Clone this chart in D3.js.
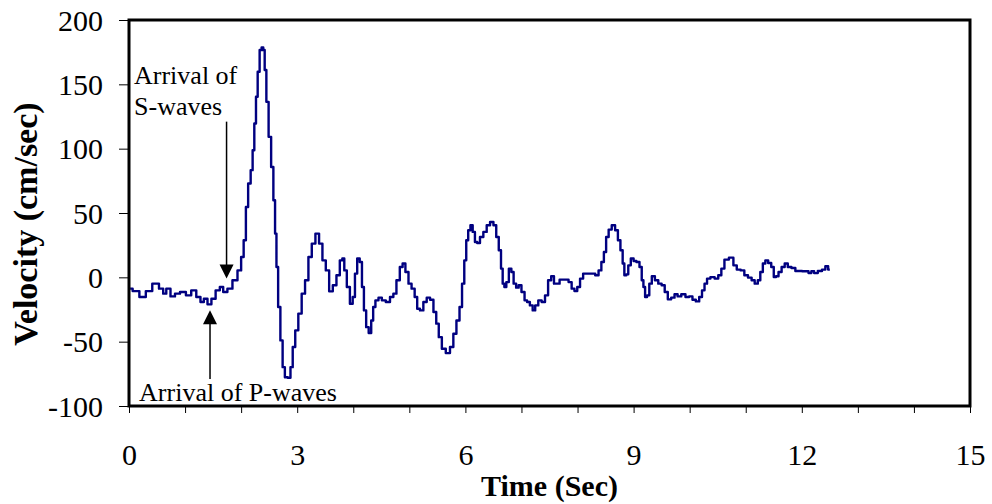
<!DOCTYPE html>
<html lang="en">
<head>
<meta charset="utf-8">
<title>Velocity Time History</title>
<script src="https://cdn.jsdelivr.net/npm/d3@7"></script>
<style>
  body { margin: 0; background: #fff; }
  text { font-family: "Liberation Serif", "Times New Roman", serif; fill: #000; }
  .axis path { display: none; }
  .axis line { stroke: #000; stroke-width: 1px; }
  .axis text { font-family: "Liberation Serif", "Times New Roman", serif; font-size: 30px; }
  .title { font-size: 30px; font-weight: bold; }
  .title.vert { font-size: 34px; }
  .note { font-size: 26px; }
  .frame { fill: none; stroke: #000; stroke-width: 3px; }
  .trace { fill: none; stroke: #000080; stroke-width: 2.4px; stroke-linejoin: round; }
</style>
</head>
<body>
<script>
// time (sec) and velocity (cm/sec)
var time = [0.02, 0.11, 0.26, 0.34, 0.49, 0.58, 0.64, 0.69, 0.79, 0.85, 0.97, 1.06, 1.16, 1.24, 1.31, 1.36,
  1.44, 1.50, 1.59, 1.65, 1.71, 1.80, 1.89, 1.98, 2.02, 2.07, 2.10, 2.15, 2.19, 2.22, 2.25, 2.28, 2.31,
  2.35, 2.38, 2.41, 2.43, 2.47, 2.51, 2.56, 2.59, 2.62, 2.64, 2.68, 2.72, 2.76, 2.80, 2.86, 2.90, 2.94,
  2.99, 3.05, 3.11, 3.17, 3.23, 3.29, 3.36, 3.42, 3.48, 3.54, 3.60, 3.67, 3.73, 3.79, 3.82, 3.86, 3.91,
  3.97, 4.01, 4.05, 4.09, 4.14, 4.17, 4.21, 4.25, 4.30, 4.34, 4.37, 4.42, 4.48, 4.54, 4.62, 4.69, 4.74,
  4.80, 4.86, 4.90, 4.96, 5.01, 5.07, 5.12, 5.16, 5.22, 5.28, 5.34, 5.40, 5.46, 5.50, 5.55, 5.61, 5.69,
  5.76, 5.81, 5.87, 5.92, 5.96, 6.00, 6.03, 6.07, 6.11, 6.15, 6.19, 6.23, 6.29, 6.35, 6.41, 6.47, 6.53,
  6.57, 6.62, 6.65, 6.68, 6.71, 6.75, 6.80, 6.84, 6.88, 6.93, 6.97, 7.03, 7.08, 7.12, 7.18, 7.22, 7.27,
  7.33, 7.39, 7.45, 7.50, 7.56, 7.60, 7.66, 7.70, 7.81, 7.87, 7.92, 7.97, 8.02, 8.07, 8.13, 8.28, 8.35,
  8.40, 8.45, 8.49, 8.53, 8.58, 8.64, 8.70, 8.74, 8.79, 8.82, 8.85, 8.89, 8.92, 8.98, 9.02, 9.08, 9.13,
  9.16, 9.19, 9.22, 9.26, 9.30, 9.35, 9.41, 9.47, 9.53, 9.58, 9.64, 9.70, 9.76, 9.81, 9.89, 9.96, 10.02,
  10.08, 10.14, 10.20, 10.24, 10.29, 10.33, 10.41, 10.48, 10.54, 10.59, 10.65, 10.75, 10.81, 10.87, 10.95,
  11.00, 11.08, 11.13, 11.19, 11.24, 11.28, 11.33, 11.37, 11.43, 11.48, 11.52, 11.56, 11.61, 11.67, 11.72,
  11.78, 11.85, 11.92, 12.09, 12.15, 12.19, 12.25, 12.32, 12.40, 12.44, 12.50];

var velocity = [-8.8, -10.7, -15.3, -10.7, -4.9, -8.8, -12.7, -8.8, -14.8, -12.7, -11.4, -14.0, -10.1, -15.3,
  -19.2, -16.6, -21.0, -16.6, -10.1, -7.5, -11.4, -8.8, -2.3, 5.4, 15.8, 28.8, 54.7, 72.9, 83.3, 98.8,
  119.6, 140.3, 159.8, 176.7, 178.7, 176.7, 161.1, 136.4, 109.2, 85.8, 59.9, 34.0, 8.0, -23.1, -49.0,
  -69.8, -77.6, -78.1, -69.8, -54.2, -41.2, -28.2, -12.7, -2.3, 15.8, 26.2, 34.0, 26.2, 13.2, 5.4, -10.9,
  -6.2, 1.6, 13.2, 14.6, 5.4, -7.5, -20.5, -15.3, 2.9, 14.6, 11.9, -7.5, -25.7, -38.7, -43.3, -33.5,
  -23.1, -17.9, -15.8, -17.9, -19.2, -15.3, -12.7, -2.3, 8.0, 10.7, 4.1, -4.9, -8.8, -15.3, -24.4, -25.7,
  -19.2, -15.8, -17.4, -27.0, -36.0, -46.5, -55.5, -58.9, -54.2, -43.8, -33.5, -23.1, -4.9, 13.2, 28.8,
  36.6, 40.5, 35.3, 27.5, 26.7, 31.4, 35.3, 40.5, 43.0, 40.5, 31.4, 21.0, 6.8, -4.9, -7.5, -3.7, 6.8, 4.1,
  -4.9, -8.0, -6.2, -11.4, -17.9, -19.2, -21.8, -25.7, -21.8, -17.9, -19.2, -14.0, -2.3, 0.8, -4.9, -4.9,
  -1.8, -1.8, -3.7, -8.8, -10.7, -7.5, -1.0, 2.9, 2.9, 1.6, 5.4, 11.9, 19.7, 31.4, 37.1, 40.5, 36.6, 28.8,
  21.0, 10.7, 1.6, 2.3, 9.3, 14.6, 12.7, 11.9, 8.0, -2.3, -7.5, -15.3, -14.0, -4.9, 0.8, -2.3, -4.9, -6.2,
  -11.4, -17.1, -15.8, -13.2, -14.8, -13.2, -15.3, -14.8, -17.4, -18.7, -15.3, -10.1, -4.9, -1.0, 0.2,
  -1.0, 1.6, 6.8, 13.8, 15.3, 9.3, 6.0, 5.4, 1.6, -0.2, -2.3, -4.9, -2.3, 4.1, 10.7, 13.2, 11.1, 8.0,
  0.2, 0.8, 4.1, 8.0, 10.7, 8.0, 7.2, 4.9, 4.7, 3.3, 4.7, 3.3, 4.9, 6.0, 8.6, 6.0];

var xTickValues = d3.range(0, 16);
var xLabelValues = [0, 3, 6, 9, 12, 15];
var yTickValues = [-100, -50, 0, 50, 100, 150, 200];

var margin = { top: 20, right: 22, bottom: 98, left: 129 },
    width = 992 - margin.left - margin.right,
    height = 504 - margin.top - margin.bottom;

var x = d3.scaleLinear().domain([0, 15]).range([0, width]);
var y = d3.scaleLinear().domain([-100, 200]).range([height, 0]);

var svg = d3.select("body").append("svg")
    .attr("width", 992)
    .attr("height", 504)
  .append("g")
    .attr("transform", "translate(" + margin.left + "," + margin.top + ")");

var xAxis = d3.axisBottom(x)
    .tickValues(xTickValues)
    .tickSize(7)
    .tickFormat(function(d) { return xLabelValues.indexOf(d) >= 0 ? String(d) : ""; });

var yAxis = d3.axisLeft(y)
    .tickValues(yTickValues)
    .tickSize(10)
    .tickPadding(16)
    .tickFormat(function(d) { return String(d); });

var gx = svg.append("g")
    .attr("class", "x axis")
    .attr("transform", "translate(0," + height + ")")
    .call(xAxis)
    .attr("font-family", null)
    .attr("font-size", null);
gx.selectAll(".tick text").attr("y", 59).attr("dy", 0);

svg.append("g")
    .attr("class", "y axis")
    .call(yAxis)
    .attr("font-family", null)
    .attr("font-size", null)
  .selectAll(".tick text")
    .attr("dy", "0.34em");

// the record is plotted as sampled steps, like the original trace
var line = d3.line()
    .curve(d3.curveStep)
    .x(function(d, i) { return x(time[i]); })
    .y(function(d) { return y(d); });

svg.append("path")
    .datum(velocity)
    .attr("class", "trace")
    .attr("d", line);

svg.append("rect")
    .attr("class", "frame")
    .attr("width", width)
    .attr("height", height);

// arrival annotations
function arrow(t, vFrom, vTip) {
  var px = x(t), y0 = y(vFrom), y1 = y(vTip);
  var dir = y1 > y0 ? 1 : -1;
  svg.append("line")
      .attr("x1", px).attr("x2", px)
      .attr("y1", y0).attr("y2", y1 - dir * 12)
      .attr("stroke", "#000").attr("stroke-width", 1.5);
  svg.append("path")
      .attr("d", "M" + (px - 7) + "," + (y1 - dir * 14) + "L" + (px + 7) + "," + (y1 - dir * 14) +
        "L" + px + "," + y1 + "Z")
      .attr("fill", "#000");
}

arrow(1.74, 121, -1);
arrow(1.445, -79, -25.5);

var sNote = svg.append("text").attr("class", "note")
    .attr("x", x(0.09)).attr("y", y(150));
sNote.append("tspan").attr("x", x(0.09)).text("Arrival of");
sNote.append("tspan").attr("x", x(0.09)).attr("dy", 31).text("S-waves");

svg.append("text").attr("class", "note")
    .attr("x", x(0.18)).attr("y", y(-96.5))
    .text("Arrival of P-waves");

svg.append("text")
    .attr("class", "title")
    .attr("x", width / 2)
    .attr("y", height + 90)
    .attr("text-anchor", "middle")
    .text("Time (Sec)");

svg.append("text")
    .attr("class", "title vert")
    .attr("transform", "rotate(-90)")
    .attr("x", -204)
    .attr("y", -92)
    .attr("text-anchor", "middle")
    .text("Velocity (cm/sec)");
</script>
</body>
</html>
